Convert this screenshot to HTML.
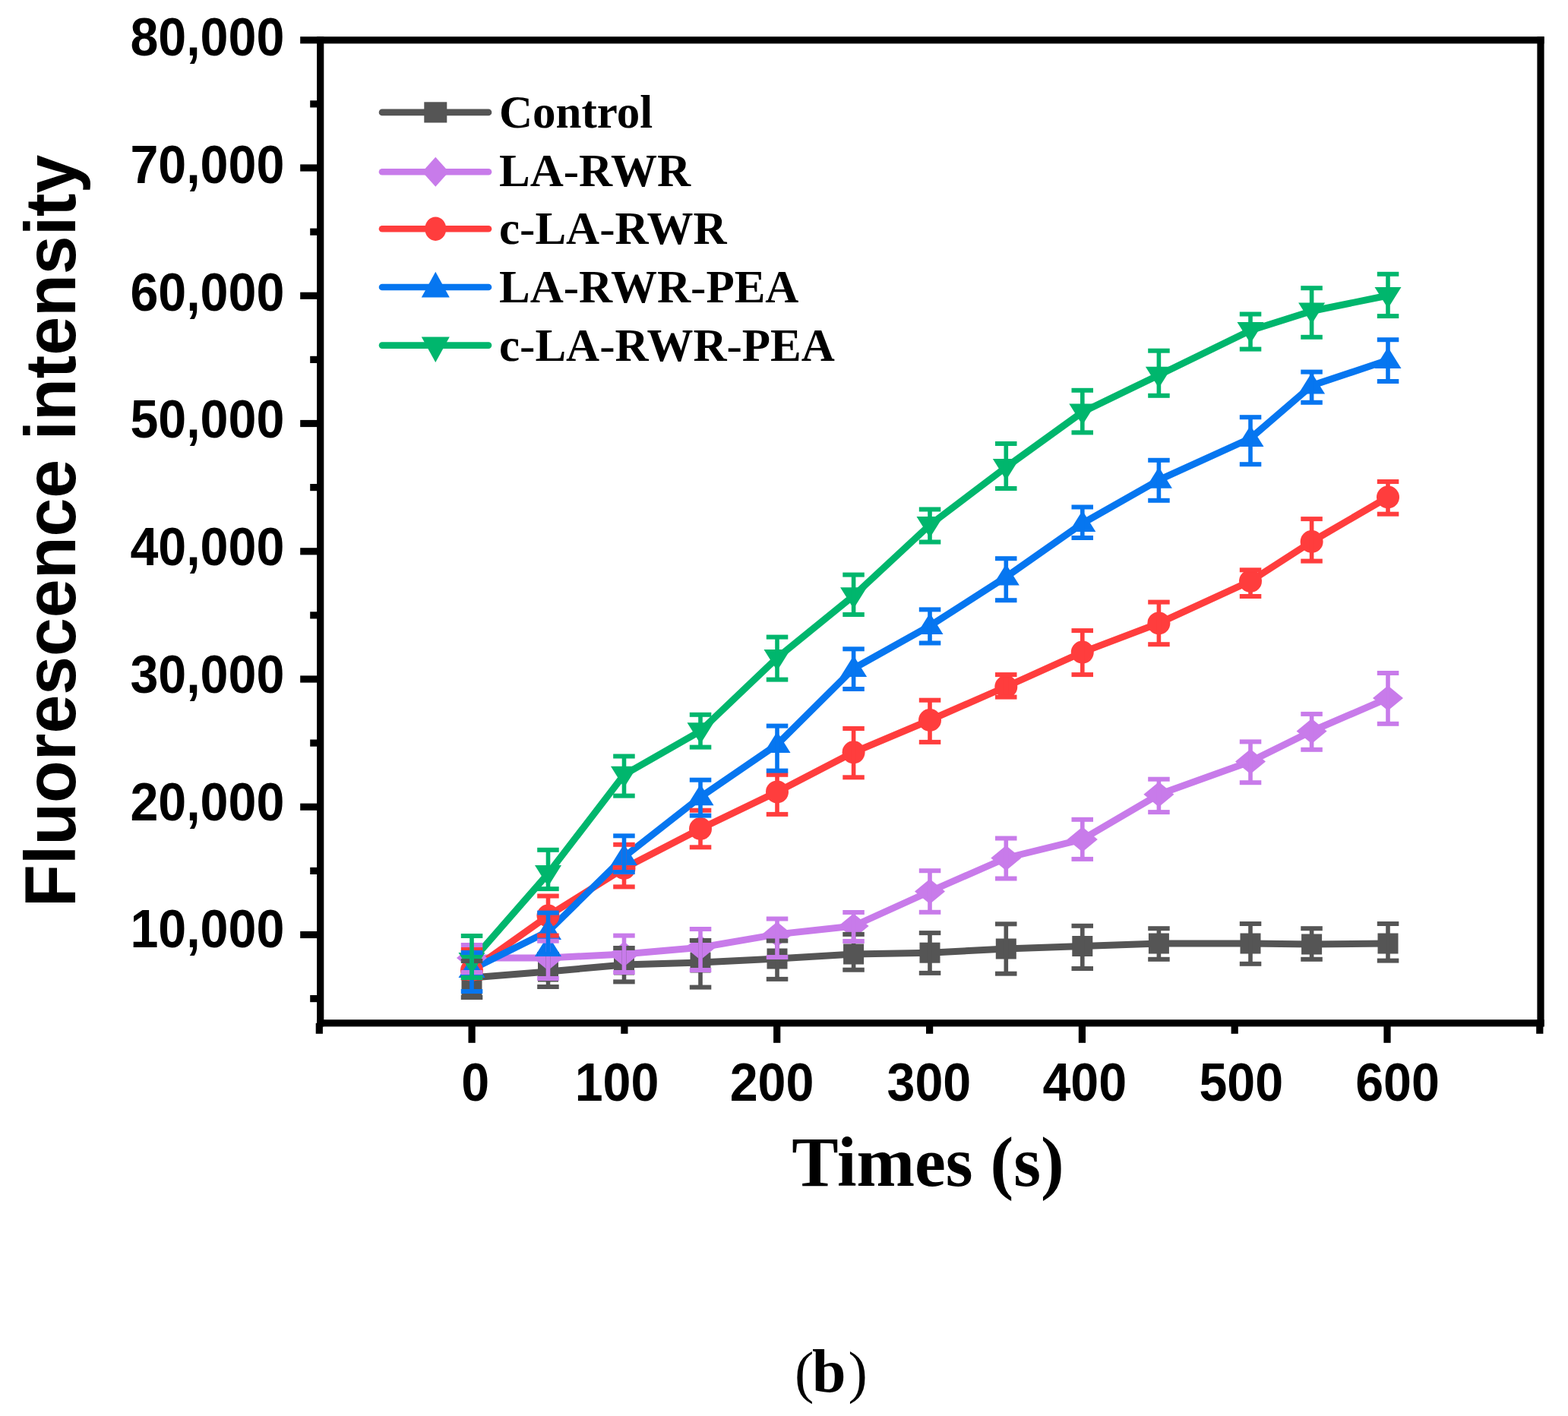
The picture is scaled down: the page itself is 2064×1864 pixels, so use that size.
<!DOCTYPE html><html><head><meta charset="utf-8"><title>Fluorescence intensity</title><style>html,body{margin:0;padding:0;background:#fff;width:2064px;height:1864px;overflow:hidden;}svg{display:block;}.tk{font-family:"Liberation Sans",Arial,sans-serif;font-weight:bold;font-size:69.7px;fill:#000;}.yt{font-family:"Liberation Sans",Arial,sans-serif;font-weight:bold;font-size:95px;fill:#000;}.xt{font-family:"Liberation Serif","Times New Roman",serif;font-weight:bold;font-size:94px;fill:#000;}.lg{font-family:"Liberation Serif","Times New Roman",serif;font-weight:bold;font-size:61px;fill:#000;}.cap{font-family:"Liberation Serif","Times New Roman",serif;font-size:80px;fill:#000;}</style></head><body>
<svg width="2064" height="1864" viewBox="0 0 2064 1864">
<rect width="2064" height="1864" fill="#fff"/>
<g><polyline points="621.0,1287.0 721.5,1279.0 821.5,1270.0 922.0,1267.0 1023.0,1262.0 1123.6,1256.0 1224.0,1254.2 1324.3,1249.0 1424.8,1245.5 1525.4,1242.0 1646.0,1242.0 1726.6,1243.0 1827.0,1242.0" fill="none" stroke="#555555" stroke-width="9.0" stroke-linejoin="round" stroke-linecap="round"/><polyline points="621.0,1261.0 721.5,1261.0 821.5,1255.9 922.0,1247.2 1023.0,1229.9 1123.6,1219.0 1224.0,1173.5 1324.3,1129.5 1424.8,1104.9 1525.4,1045.8 1646.0,1002.4 1726.6,962.5 1827.0,919.1" fill="none" stroke="#C87BEA" stroke-width="9.0" stroke-linejoin="round" stroke-linecap="round"/><polyline points="621.0,1277.0 721.5,1205.6 821.5,1143.0 922.0,1091.0 1023.0,1042.4 1123.6,990.3 1224.0,948.0 1324.3,904.0 1424.8,858.6 1525.4,820.4 1646.0,765.0 1726.6,713.0 1827.0,654.5" fill="none" stroke="#FF3D3D" stroke-width="9.0" stroke-linejoin="round" stroke-linecap="round"/><polyline points="621.0,1276.0 721.5,1226.0 821.5,1128.0 922.0,1049.3 1023.0,980.0 1123.6,880.0 1224.0,823.9 1324.3,759.5 1424.8,689.0 1525.4,631.8 1646.0,577.0 1726.6,507.6 1827.0,474.0" fill="none" stroke="#0676F0" stroke-width="9.0" stroke-linejoin="round" stroke-linecap="round"/><polyline points="621.0,1265.0 721.5,1150.0 821.5,1019.8 922.0,962.3 1023.0,866.0 1123.6,784.3 1224.0,691.0 1324.3,615.0 1424.8,542.5 1525.4,493.7 1646.0,435.0 1726.6,409.5 1827.0,389.0" fill="none" stroke="#00B66D" stroke-width="9.0" stroke-linejoin="round" stroke-linecap="round"/><rect x="607.5" y="1286.5" width="27" height="27" fill="#555555"/><rect x="708.0" y="1265.5" width="27" height="27" fill="#555555"/><rect x="808.0" y="1256.5" width="27" height="27" fill="#555555"/><rect x="908.5" y="1253.5" width="27" height="27" fill="#555555"/><rect x="1009.5" y="1248.5" width="27" height="27" fill="#555555"/><rect x="1110.1" y="1242.5" width="27" height="27" fill="#555555"/><rect x="1210.5" y="1240.7" width="27" height="27" fill="#555555"/><rect x="1310.8" y="1235.5" width="27" height="27" fill="#555555"/><rect x="1411.3" y="1232.0" width="27" height="27" fill="#555555"/><rect x="1511.9" y="1228.5" width="27" height="27" fill="#555555"/><rect x="1632.5" y="1228.5" width="27" height="27" fill="#555555"/><rect x="1713.1" y="1229.5" width="27" height="27" fill="#555555"/><rect x="1813.5" y="1228.5" width="27" height="27" fill="#555555"/><polygon points="621.0,1244.5 641.0,1261.0 621.0,1277.5 601.0,1261.0" fill="#C87BEA"/><polygon points="721.5,1244.5 741.5,1261.0 721.5,1277.5 701.5,1261.0" fill="#C87BEA"/><polygon points="821.5,1239.4 841.5,1255.9 821.5,1272.4 801.5,1255.9" fill="#C87BEA"/><polygon points="922.0,1230.7 942.0,1247.2 922.0,1263.7 902.0,1247.2" fill="#C87BEA"/><polygon points="1023.0,1213.4 1043.0,1229.9 1023.0,1246.4 1003.0,1229.9" fill="#C87BEA"/><polygon points="1123.6,1202.5 1143.6,1219.0 1123.6,1235.5 1103.6,1219.0" fill="#C87BEA"/><polygon points="1224.0,1157.0 1244.0,1173.5 1224.0,1190.0 1204.0,1173.5" fill="#C87BEA"/><polygon points="1324.3,1113.0 1344.3,1129.5 1324.3,1146.0 1304.3,1129.5" fill="#C87BEA"/><polygon points="1424.8,1088.4 1444.8,1104.9 1424.8,1121.4 1404.8,1104.9" fill="#C87BEA"/><polygon points="1525.4,1029.3 1545.4,1045.8 1525.4,1062.3 1505.4,1045.8" fill="#C87BEA"/><polygon points="1646.0,985.9 1666.0,1002.4 1646.0,1018.9 1626.0,1002.4" fill="#C87BEA"/><polygon points="1726.6,946.0 1746.6,962.5 1726.6,979.0 1706.6,962.5" fill="#C87BEA"/><polygon points="1827.0,902.6 1847.0,919.1 1827.0,935.6 1807.0,919.1" fill="#C87BEA"/><ellipse cx="621.0" cy="1277.0" rx="15" ry="15" fill="#FF3D3D"/><ellipse cx="721.5" cy="1205.6" rx="15" ry="15" fill="#FF3D3D"/><ellipse cx="821.5" cy="1143.0" rx="15" ry="15" fill="#FF3D3D"/><ellipse cx="922.0" cy="1091.0" rx="15" ry="15" fill="#FF3D3D"/><ellipse cx="1023.0" cy="1042.4" rx="15" ry="15" fill="#FF3D3D"/><ellipse cx="1123.6" cy="990.3" rx="15" ry="15" fill="#FF3D3D"/><ellipse cx="1224.0" cy="948.0" rx="15" ry="15" fill="#FF3D3D"/><ellipse cx="1324.3" cy="904.0" rx="15" ry="15" fill="#FF3D3D"/><ellipse cx="1424.8" cy="858.6" rx="15" ry="15" fill="#FF3D3D"/><ellipse cx="1525.4" cy="820.4" rx="15" ry="15" fill="#FF3D3D"/><ellipse cx="1646.0" cy="765.0" rx="15" ry="15" fill="#FF3D3D"/><ellipse cx="1726.6" cy="713.0" rx="15" ry="15" fill="#FF3D3D"/><ellipse cx="1827.0" cy="654.5" rx="15" ry="15" fill="#FF3D3D"/><polygon points="621.0,1259.0 638.5,1287.0 603.5,1287.0" fill="#0676F0"/><polygon points="721.5,1209.0 739.0,1237.0 704.0,1237.0" fill="#0676F0"/><polygon points="821.5,1111.0 839.0,1139.0 804.0,1139.0" fill="#0676F0"/><polygon points="922.0,1032.3 939.5,1060.3 904.5,1060.3" fill="#0676F0"/><polygon points="1023.0,963.0 1040.5,991.0 1005.5,991.0" fill="#0676F0"/><polygon points="1123.6,863.0 1141.1,891.0 1106.1,891.0" fill="#0676F0"/><polygon points="1224.0,806.9 1241.5,834.9 1206.5,834.9" fill="#0676F0"/><polygon points="1324.3,742.5 1341.8,770.5 1306.8,770.5" fill="#0676F0"/><polygon points="1424.8,672.0 1442.3,700.0 1407.3,700.0" fill="#0676F0"/><polygon points="1525.4,614.8 1542.9,642.8 1507.9,642.8" fill="#0676F0"/><polygon points="1646.0,560.0 1663.5,588.0 1628.5,588.0" fill="#0676F0"/><polygon points="1726.6,490.6 1744.1,518.6 1709.1,518.6" fill="#0676F0"/><polygon points="1827.0,457.0 1844.5,485.0 1809.5,485.0" fill="#0676F0"/><polygon points="621.0,1282.0 638.5,1254.0 603.5,1254.0" fill="#00B66D"/><polygon points="721.5,1167.0 739.0,1139.0 704.0,1139.0" fill="#00B66D"/><polygon points="821.5,1036.8 839.0,1008.8 804.0,1008.8" fill="#00B66D"/><polygon points="922.0,979.3 939.5,951.3 904.5,951.3" fill="#00B66D"/><polygon points="1023.0,883.0 1040.5,855.0 1005.5,855.0" fill="#00B66D"/><polygon points="1123.6,801.3 1141.1,773.3 1106.1,773.3" fill="#00B66D"/><polygon points="1224.0,708.0 1241.5,680.0 1206.5,680.0" fill="#00B66D"/><polygon points="1324.3,632.0 1341.8,604.0 1306.8,604.0" fill="#00B66D"/><polygon points="1424.8,559.5 1442.3,531.5 1407.3,531.5" fill="#00B66D"/><polygon points="1525.4,510.7 1542.9,482.7 1507.9,482.7" fill="#00B66D"/><polygon points="1646.0,452.0 1663.5,424.0 1628.5,424.0" fill="#00B66D"/><polygon points="1726.6,426.5 1744.1,398.5 1709.1,398.5" fill="#00B66D"/><polygon points="1827.0,406.0 1844.5,378.0 1809.5,378.0" fill="#00B66D"/><polygon points="721.5,1231.0 739.0,1259.0 704.0,1259.0" fill="#0676F0"/><rect x="618.2" y="1265.0" width="5.6" height="48.0" fill="#555555"/><rect x="606.8" y="1262.0" width="28.5" height="6.0" fill="#555555"/><rect x="606.8" y="1310.0" width="28.5" height="6.0" fill="#555555"/><rect x="718.7" y="1256.0" width="5.6" height="43.0" fill="#555555"/><rect x="707.2" y="1253.0" width="28.5" height="6.0" fill="#555555"/><rect x="707.2" y="1296.0" width="28.5" height="6.0" fill="#555555"/><rect x="818.7" y="1248.0" width="5.6" height="44.4" fill="#555555"/><rect x="807.2" y="1245.0" width="28.5" height="6.0" fill="#555555"/><rect x="807.2" y="1289.4" width="28.5" height="6.0" fill="#555555"/><rect x="919.2" y="1238.0" width="5.6" height="61.6" fill="#555555"/><rect x="907.8" y="1235.0" width="28.5" height="6.0" fill="#555555"/><rect x="907.8" y="1296.6" width="28.5" height="6.0" fill="#555555"/><rect x="1020.2" y="1238.5" width="5.6" height="50.4" fill="#555555"/><rect x="1008.8" y="1235.5" width="28.5" height="6.0" fill="#555555"/><rect x="1008.8" y="1285.9" width="28.5" height="6.0" fill="#555555"/><rect x="1120.8" y="1229.9" width="5.6" height="46.8" fill="#555555"/><rect x="1109.3" y="1226.9" width="28.5" height="6.0" fill="#555555"/><rect x="1109.3" y="1273.7" width="28.5" height="6.0" fill="#555555"/><rect x="1221.2" y="1228.1" width="5.6" height="52.8" fill="#555555"/><rect x="1209.8" y="1225.1" width="28.5" height="6.0" fill="#555555"/><rect x="1209.8" y="1277.9" width="28.5" height="6.0" fill="#555555"/><rect x="1321.5" y="1216.3" width="5.6" height="65.4" fill="#555555"/><rect x="1310.0" y="1213.3" width="28.5" height="6.0" fill="#555555"/><rect x="1310.0" y="1278.7" width="28.5" height="6.0" fill="#555555"/><rect x="1422.0" y="1218.8" width="5.6" height="56.2" fill="#555555"/><rect x="1410.5" y="1215.8" width="28.5" height="6.0" fill="#555555"/><rect x="1410.5" y="1272.0" width="28.5" height="6.0" fill="#555555"/><rect x="1522.6" y="1222.2" width="5.6" height="40.6" fill="#555555"/><rect x="1511.2" y="1219.2" width="28.5" height="6.0" fill="#555555"/><rect x="1511.2" y="1259.8" width="28.5" height="6.0" fill="#555555"/><rect x="1643.2" y="1216.0" width="5.6" height="52.8" fill="#555555"/><rect x="1631.8" y="1213.0" width="28.5" height="6.0" fill="#555555"/><rect x="1631.8" y="1265.8" width="28.5" height="6.0" fill="#555555"/><rect x="1723.8" y="1222.2" width="5.6" height="40.6" fill="#555555"/><rect x="1712.3" y="1219.2" width="28.5" height="6.0" fill="#555555"/><rect x="1712.3" y="1259.8" width="28.5" height="6.0" fill="#555555"/><rect x="1824.2" y="1216.0" width="5.6" height="48.6" fill="#555555"/><rect x="1812.8" y="1213.0" width="28.5" height="6.0" fill="#555555"/><rect x="1812.8" y="1261.6" width="28.5" height="6.0" fill="#555555"/><rect x="618.2" y="1244.0" width="5.6" height="36.0" fill="#C87BEA"/><rect x="606.8" y="1241.0" width="28.5" height="6.0" fill="#C87BEA"/><rect x="606.8" y="1277.0" width="28.5" height="6.0" fill="#C87BEA"/><rect x="718.7" y="1238.7" width="5.6" height="49.3" fill="#C87BEA"/><rect x="707.2" y="1235.7" width="28.5" height="6.0" fill="#C87BEA"/><rect x="707.2" y="1285.0" width="28.5" height="6.0" fill="#C87BEA"/><rect x="818.7" y="1231.6" width="5.6" height="48.4" fill="#C87BEA"/><rect x="807.2" y="1228.6" width="28.5" height="6.0" fill="#C87BEA"/><rect x="807.2" y="1277.0" width="28.5" height="6.0" fill="#C87BEA"/><rect x="919.2" y="1223.0" width="5.6" height="54.0" fill="#C87BEA"/><rect x="907.8" y="1220.0" width="28.5" height="6.0" fill="#C87BEA"/><rect x="907.8" y="1274.0" width="28.5" height="6.0" fill="#C87BEA"/><rect x="1020.2" y="1209.5" width="5.6" height="50.5" fill="#C87BEA"/><rect x="1008.8" y="1206.5" width="28.5" height="6.0" fill="#C87BEA"/><rect x="1008.8" y="1257.0" width="28.5" height="6.0" fill="#C87BEA"/><rect x="1120.8" y="1201.0" width="5.6" height="38.0" fill="#C87BEA"/><rect x="1109.3" y="1198.0" width="28.5" height="6.0" fill="#C87BEA"/><rect x="1109.3" y="1236.0" width="28.5" height="6.0" fill="#C87BEA"/><rect x="1221.2" y="1146.2" width="5.6" height="54.6" fill="#C87BEA"/><rect x="1209.8" y="1143.2" width="28.5" height="6.0" fill="#C87BEA"/><rect x="1209.8" y="1197.8" width="28.5" height="6.0" fill="#C87BEA"/><rect x="1321.5" y="1103.5" width="5.6" height="53.0" fill="#C87BEA"/><rect x="1310.0" y="1100.5" width="28.5" height="6.0" fill="#C87BEA"/><rect x="1310.0" y="1153.5" width="28.5" height="6.0" fill="#C87BEA"/><rect x="1422.0" y="1078.8" width="5.6" height="52.1" fill="#C87BEA"/><rect x="1410.5" y="1075.8" width="28.5" height="6.0" fill="#C87BEA"/><rect x="1410.5" y="1127.9" width="28.5" height="6.0" fill="#C87BEA"/><rect x="1522.6" y="1025.7" width="5.6" height="43.4" fill="#C87BEA"/><rect x="1511.2" y="1022.7" width="28.5" height="6.0" fill="#C87BEA"/><rect x="1511.2" y="1066.1" width="28.5" height="6.0" fill="#C87BEA"/><rect x="1643.2" y="976.4" width="5.6" height="53.8" fill="#C87BEA"/><rect x="1631.8" y="973.4" width="28.5" height="6.0" fill="#C87BEA"/><rect x="1631.8" y="1027.2" width="28.5" height="6.0" fill="#C87BEA"/><rect x="1723.8" y="939.9" width="5.6" height="46.9" fill="#C87BEA"/><rect x="1712.3" y="936.9" width="28.5" height="6.0" fill="#C87BEA"/><rect x="1712.3" y="983.8" width="28.5" height="6.0" fill="#C87BEA"/><rect x="1824.2" y="886.0" width="5.6" height="66.8" fill="#C87BEA"/><rect x="1812.8" y="883.0" width="28.5" height="6.0" fill="#C87BEA"/><rect x="1812.8" y="949.8" width="28.5" height="6.0" fill="#C87BEA"/><rect x="618.2" y="1250.0" width="5.6" height="37.5" fill="#FF3D3D"/><rect x="606.8" y="1247.0" width="28.5" height="6.0" fill="#FF3D3D"/><rect x="606.8" y="1284.5" width="28.5" height="6.0" fill="#FF3D3D"/><rect x="718.7" y="1179.5" width="5.6" height="52.1" fill="#FF3D3D"/><rect x="707.2" y="1176.5" width="28.5" height="6.0" fill="#FF3D3D"/><rect x="707.2" y="1228.6" width="28.5" height="6.0" fill="#FF3D3D"/><rect x="818.7" y="1111.8" width="5.6" height="55.6" fill="#FF3D3D"/><rect x="807.2" y="1108.8" width="28.5" height="6.0" fill="#FF3D3D"/><rect x="807.2" y="1164.4" width="28.5" height="6.0" fill="#FF3D3D"/><rect x="919.2" y="1066.7" width="5.6" height="48.6" fill="#FF3D3D"/><rect x="907.8" y="1063.7" width="28.5" height="6.0" fill="#FF3D3D"/><rect x="907.8" y="1112.3" width="28.5" height="6.0" fill="#FF3D3D"/><rect x="1020.2" y="1019.8" width="5.6" height="52.1" fill="#FF3D3D"/><rect x="1008.8" y="1016.8" width="28.5" height="6.0" fill="#FF3D3D"/><rect x="1008.8" y="1068.9" width="28.5" height="6.0" fill="#FF3D3D"/><rect x="1120.8" y="959.0" width="5.6" height="64.3" fill="#FF3D3D"/><rect x="1109.3" y="956.0" width="28.5" height="6.0" fill="#FF3D3D"/><rect x="1109.3" y="1020.3" width="28.5" height="6.0" fill="#FF3D3D"/><rect x="1221.2" y="921.7" width="5.6" height="55.2" fill="#FF3D3D"/><rect x="1209.8" y="918.7" width="28.5" height="6.0" fill="#FF3D3D"/><rect x="1209.8" y="973.9" width="28.5" height="6.0" fill="#FF3D3D"/><rect x="1321.5" y="888.1" width="5.6" height="29.5" fill="#FF3D3D"/><rect x="1310.0" y="885.1" width="28.5" height="6.0" fill="#FF3D3D"/><rect x="1310.0" y="914.6" width="28.5" height="6.0" fill="#FF3D3D"/><rect x="1422.0" y="830.1" width="5.6" height="58.0" fill="#FF3D3D"/><rect x="1410.5" y="827.1" width="28.5" height="6.0" fill="#FF3D3D"/><rect x="1410.5" y="885.1" width="28.5" height="6.0" fill="#FF3D3D"/><rect x="1522.6" y="792.6" width="5.6" height="55.6" fill="#FF3D3D"/><rect x="1511.2" y="789.6" width="28.5" height="6.0" fill="#FF3D3D"/><rect x="1511.2" y="845.2" width="28.5" height="6.0" fill="#FF3D3D"/><rect x="1643.2" y="750.3" width="5.6" height="34.7" fill="#FF3D3D"/><rect x="1631.8" y="747.3" width="28.5" height="6.0" fill="#FF3D3D"/><rect x="1631.8" y="782.0" width="28.5" height="6.0" fill="#FF3D3D"/><rect x="1723.8" y="683.1" width="5.6" height="55.5" fill="#FF3D3D"/><rect x="1712.3" y="680.1" width="28.5" height="6.0" fill="#FF3D3D"/><rect x="1712.3" y="735.6" width="28.5" height="6.0" fill="#FF3D3D"/><rect x="1824.2" y="634.0" width="5.6" height="42.7" fill="#FF3D3D"/><rect x="1812.8" y="631.0" width="28.5" height="6.0" fill="#FF3D3D"/><rect x="1812.8" y="673.7" width="28.5" height="6.0" fill="#FF3D3D"/><rect x="618.2" y="1254.0" width="5.6" height="51.0" fill="#0676F0"/><rect x="606.8" y="1251.0" width="28.5" height="6.0" fill="#0676F0"/><rect x="606.8" y="1302.0" width="28.5" height="6.0" fill="#0676F0"/><rect x="718.7" y="1201.6" width="5.6" height="54.4" fill="#0676F0"/><rect x="707.2" y="1198.6" width="28.5" height="6.0" fill="#0676F0"/><rect x="707.2" y="1253.0" width="28.5" height="6.0" fill="#0676F0"/><rect x="818.7" y="1100.3" width="5.6" height="47.7" fill="#0676F0"/><rect x="807.2" y="1097.3" width="28.5" height="6.0" fill="#0676F0"/><rect x="807.2" y="1145.0" width="28.5" height="6.0" fill="#0676F0"/><rect x="919.2" y="1026.7" width="5.6" height="46.9" fill="#0676F0"/><rect x="907.8" y="1023.7" width="28.5" height="6.0" fill="#0676F0"/><rect x="907.8" y="1070.6" width="28.5" height="6.0" fill="#0676F0"/><rect x="1020.2" y="955.6" width="5.6" height="59.0" fill="#0676F0"/><rect x="1008.8" y="952.6" width="28.5" height="6.0" fill="#0676F0"/><rect x="1008.8" y="1011.6" width="28.5" height="6.0" fill="#0676F0"/><rect x="1120.8" y="854.3" width="5.6" height="52.7" fill="#0676F0"/><rect x="1109.3" y="851.3" width="28.5" height="6.0" fill="#0676F0"/><rect x="1109.3" y="904.0" width="28.5" height="6.0" fill="#0676F0"/><rect x="1221.2" y="802.4" width="5.6" height="44.1" fill="#0676F0"/><rect x="1209.8" y="799.4" width="28.5" height="6.0" fill="#0676F0"/><rect x="1209.8" y="843.5" width="28.5" height="6.0" fill="#0676F0"/><rect x="1321.5" y="735.2" width="5.6" height="55.0" fill="#0676F0"/><rect x="1310.0" y="732.2" width="28.5" height="6.0" fill="#0676F0"/><rect x="1310.0" y="787.2" width="28.5" height="6.0" fill="#0676F0"/><rect x="1422.0" y="667.5" width="5.6" height="40.5" fill="#0676F0"/><rect x="1410.5" y="664.5" width="28.5" height="6.0" fill="#0676F0"/><rect x="1410.5" y="705.0" width="28.5" height="6.0" fill="#0676F0"/><rect x="1522.6" y="605.8" width="5.6" height="53.0" fill="#0676F0"/><rect x="1511.2" y="602.8" width="28.5" height="6.0" fill="#0676F0"/><rect x="1511.2" y="655.8" width="28.5" height="6.0" fill="#0676F0"/><rect x="1643.2" y="549.2" width="5.6" height="62.0" fill="#0676F0"/><rect x="1631.8" y="546.2" width="28.5" height="6.0" fill="#0676F0"/><rect x="1631.8" y="608.2" width="28.5" height="6.0" fill="#0676F0"/><rect x="1723.8" y="489.6" width="5.6" height="40.2" fill="#0676F0"/><rect x="1712.3" y="486.6" width="28.5" height="6.0" fill="#0676F0"/><rect x="1712.3" y="526.8" width="28.5" height="6.0" fill="#0676F0"/><rect x="1824.2" y="447.2" width="5.6" height="54.8" fill="#0676F0"/><rect x="1812.8" y="444.2" width="28.5" height="6.0" fill="#0676F0"/><rect x="1812.8" y="499.0" width="28.5" height="6.0" fill="#0676F0"/><rect x="618.2" y="1232.0" width="5.6" height="55.0" fill="#00B66D"/><rect x="606.8" y="1229.0" width="28.5" height="6.0" fill="#00B66D"/><rect x="606.8" y="1284.0" width="28.5" height="6.0" fill="#00B66D"/><rect x="718.7" y="1118.8" width="5.6" height="51.3" fill="#00B66D"/><rect x="707.2" y="1115.8" width="28.5" height="6.0" fill="#00B66D"/><rect x="707.2" y="1167.1" width="28.5" height="6.0" fill="#00B66D"/><rect x="818.7" y="995.5" width="5.6" height="52.1" fill="#00B66D"/><rect x="807.2" y="992.5" width="28.5" height="6.0" fill="#00B66D"/><rect x="807.2" y="1044.6" width="28.5" height="6.0" fill="#00B66D"/><rect x="919.2" y="940.8" width="5.6" height="42.8" fill="#00B66D"/><rect x="907.8" y="937.8" width="28.5" height="6.0" fill="#00B66D"/><rect x="907.8" y="980.6" width="28.5" height="6.0" fill="#00B66D"/><rect x="1020.2" y="838.6" width="5.6" height="56.0" fill="#00B66D"/><rect x="1008.8" y="835.6" width="28.5" height="6.0" fill="#00B66D"/><rect x="1008.8" y="891.6" width="28.5" height="6.0" fill="#00B66D"/><rect x="1120.8" y="756.6" width="5.6" height="52.4" fill="#00B66D"/><rect x="1109.3" y="753.6" width="28.5" height="6.0" fill="#00B66D"/><rect x="1109.3" y="806.0" width="28.5" height="6.0" fill="#00B66D"/><rect x="1221.2" y="670.5" width="5.6" height="43.0" fill="#00B66D"/><rect x="1209.8" y="667.5" width="28.5" height="6.0" fill="#00B66D"/><rect x="1209.8" y="710.5" width="28.5" height="6.0" fill="#00B66D"/><rect x="1321.5" y="584.0" width="5.6" height="59.0" fill="#00B66D"/><rect x="1310.0" y="581.0" width="28.5" height="6.0" fill="#00B66D"/><rect x="1310.0" y="640.0" width="28.5" height="6.0" fill="#00B66D"/><rect x="1422.0" y="513.8" width="5.6" height="55.6" fill="#00B66D"/><rect x="1410.5" y="510.8" width="28.5" height="6.0" fill="#00B66D"/><rect x="1410.5" y="566.4" width="28.5" height="6.0" fill="#00B66D"/><rect x="1522.6" y="461.7" width="5.6" height="59.1" fill="#00B66D"/><rect x="1511.2" y="458.7" width="28.5" height="6.0" fill="#00B66D"/><rect x="1511.2" y="517.8" width="28.5" height="6.0" fill="#00B66D"/><rect x="1643.2" y="413.5" width="5.6" height="46.1" fill="#00B66D"/><rect x="1631.8" y="410.5" width="28.5" height="6.0" fill="#00B66D"/><rect x="1631.8" y="456.6" width="28.5" height="6.0" fill="#00B66D"/><rect x="1723.8" y="379.2" width="5.6" height="64.6" fill="#00B66D"/><rect x="1712.3" y="376.2" width="28.5" height="6.0" fill="#00B66D"/><rect x="1712.3" y="440.8" width="28.5" height="6.0" fill="#00B66D"/><rect x="1824.2" y="360.8" width="5.6" height="55.3" fill="#00B66D"/><rect x="1812.8" y="357.8" width="28.5" height="6.0" fill="#00B66D"/><rect x="1812.8" y="413.1" width="28.5" height="6.0" fill="#00B66D"/></g>
<g><rect x="417.09999999999997" y="48.199999999999996" width="1615.5" height="9.2" fill="#000"/><rect x="417.09999999999997" y="1342.2" width="1615.5" height="9.2" fill="#000"/><rect x="417.09999999999997" y="48.199999999999996" width="9.2" height="1303.2" fill="#000"/><rect x="2023.4" y="48.199999999999996" width="9.2" height="1303.2" fill="#000"/><rect x="395.2" y="48.2" width="26.5" height="9.2" fill="#000"/><rect x="408.2" y="132.3" width="13.5" height="9.2" fill="#000"/><rect x="395.2" y="216.4" width="26.5" height="9.2" fill="#000"/><rect x="408.2" y="300.6" width="13.5" height="9.2" fill="#000"/><rect x="395.2" y="384.7" width="26.5" height="9.2" fill="#000"/><rect x="408.2" y="468.8" width="13.5" height="9.2" fill="#000"/><rect x="395.2" y="552.9" width="26.5" height="9.2" fill="#000"/><rect x="408.2" y="637.0" width="13.5" height="9.2" fill="#000"/><rect x="395.2" y="721.2" width="26.5" height="9.2" fill="#000"/><rect x="408.2" y="805.3" width="13.5" height="9.2" fill="#000"/><rect x="395.2" y="889.4" width="26.5" height="9.2" fill="#000"/><rect x="408.2" y="973.5" width="13.5" height="9.2" fill="#000"/><rect x="395.2" y="1057.6" width="26.5" height="9.2" fill="#000"/><rect x="408.2" y="1141.8" width="13.5" height="9.2" fill="#000"/><rect x="395.2" y="1225.9" width="26.5" height="9.2" fill="#000"/><rect x="408.2" y="1310.0" width="13.5" height="9.2" fill="#000"/><rect x="415.7" y="1346.8" width="9.2" height="14.0" fill="#000"/><rect x="616.5" y="1346.8" width="9.2" height="26.0" fill="#000"/><rect x="817.3" y="1346.8" width="9.2" height="14.0" fill="#000"/><rect x="1018.1" y="1346.8" width="9.2" height="26.0" fill="#000"/><rect x="1219.0" y="1346.8" width="9.2" height="14.0" fill="#000"/><rect x="1419.8" y="1346.8" width="9.2" height="26.0" fill="#000"/><rect x="1620.6" y="1346.8" width="9.2" height="14.0" fill="#000"/><rect x="1821.4" y="1346.8" width="9.2" height="26.0" fill="#000"/><rect x="2022.2" y="1346.8" width="9.2" height="14.0" fill="#000"/></g>
<g><text class="tk" transform="translate(374.3,73.3) scale(0.952,1)" text-anchor="end">80,000</text><text class="tk" transform="translate(374.3,241.0) scale(0.952,1)" text-anchor="end">70,000</text><text class="tk" transform="translate(374.3,408.7) scale(0.952,1)" text-anchor="end">60,000</text><text class="tk" transform="translate(374.3,576.4) scale(0.952,1)" text-anchor="end">50,000</text><text class="tk" transform="translate(374.3,744.1) scale(0.952,1)" text-anchor="end">40,000</text><text class="tk" transform="translate(374.3,911.8) scale(0.952,1)" text-anchor="end">30,000</text><text class="tk" transform="translate(374.3,1079.5) scale(0.952,1)" text-anchor="end">20,000</text><text class="tk" transform="translate(374.3,1247.2) scale(0.952,1)" text-anchor="end">10,000</text><text class="tk" transform="translate(625.8,1449.0) scale(0.952,1)" text-anchor="middle">0</text><text class="tk" transform="translate(812.0,1449.0) scale(0.952,1)" text-anchor="middle">100</text><text class="tk" transform="translate(1016.0,1449.0) scale(0.952,1)" text-anchor="middle">200</text><text class="tk" transform="translate(1222.9,1449.0) scale(0.952,1)" text-anchor="middle">300</text><text class="tk" transform="translate(1427.8,1449.0) scale(0.952,1)" text-anchor="middle">400</text><text class="tk" transform="translate(1633.8,1449.0) scale(0.952,1)" text-anchor="middle">500</text><text class="tk" transform="translate(1839.5,1449.0) scale(0.952,1)" text-anchor="middle">600</text></g>
<text class="yt" transform="translate(98.7,1194.0) rotate(-90) scale(0.962,1)" x="0" y="0">Fluorescence intensity</text>
<text class="xt" transform="translate(1221.4,1561) scale(0.978,1)" text-anchor="middle">Times (s)</text>
<g><line x1="503" y1="147.9" x2="643" y2="147.9" stroke="#555555" stroke-width="8.6" stroke-linecap="round"/><rect x="558.3" y="134.3" width="30" height="27.2" fill="#555555"/><text class="lg" x="657" y="168.3">Control</text><line x1="503" y1="226.2" x2="643" y2="226.2" stroke="#C87BEA" stroke-width="8.6" stroke-linecap="round"/><polygon points="573.3,206.7 590.8,226.2 573.3,245.7 555.8,226.2" fill="#C87BEA"/><text class="lg" x="657" y="244.8">LA<tspan font-weight="normal">-</tspan>RWR</text><line x1="503" y1="301.2" x2="643" y2="301.2" stroke="#FF3D3D" stroke-width="8.6" stroke-linecap="round"/><ellipse cx="573.3" cy="301.2" rx="14" ry="15.8" fill="#FF3D3D"/><text class="lg" x="657" y="321.0">c<tspan font-weight="normal">-</tspan>LA<tspan font-weight="normal">-</tspan>RWR</text><line x1="503" y1="378.0" x2="643" y2="378.0" stroke="#0676F0" stroke-width="8.6" stroke-linecap="round"/><polygon points="573.3,357.7 591.8,391.4 554.8,391.4" fill="#0676F0"/><text class="lg" x="657" y="398.1">LA<tspan font-weight="normal">-</tspan>RWR<tspan font-weight="normal">-</tspan>PEA</text><line x1="503" y1="454.6" x2="643" y2="454.6" stroke="#00B66D" stroke-width="8.6" stroke-linecap="round"/><polygon points="573.3,477.0 591.8,443.6 554.8,443.6" fill="#00B66D"/><text class="lg" x="657" y="474.6">c<tspan font-weight="normal">-</tspan>LA<tspan font-weight="normal">-</tspan>RWR<tspan font-weight="normal">-</tspan>PEA</text></g>
<text class="cap" y="1832.3"><tspan x="1046.0" font-size="76px">(</tspan><tspan x="1069.0" font-weight="bold" font-size="80px">b</tspan><tspan x="1116.5" font-size="76px">)</tspan></text>
</svg></body></html>
